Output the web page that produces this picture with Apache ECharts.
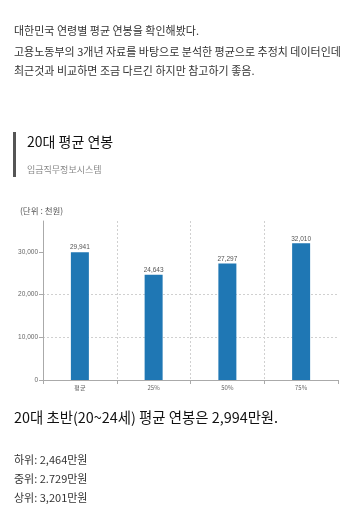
<!DOCTYPE html>
<html>
<head>
<meta charset="utf-8">
<script src="https://cdn.jsdelivr.net/npm/echarts@6/dist/echarts.min.js"></script>
<style>
html,body{margin:0;padding:0;background:#fff;}
#c{width:360px;height:524px;}
</style>
</head>
<body>
<div id="c"></div>
<script>
const categories = ['평균', '25%', '50%', '75%'];
const salaries = [29941, 24643, 27297, 32010];
const yLabelValues = [0, 10000, 20000, 30000];
const introLines = [
  '대한민국 연령별 평균 연봉을 확인해봤다.',
  '고용노동부의 3개년 자료를 바탕으로 분석한 평균으로 추정치 데이터인데',
  '최근것과 비교하면 조금 다르긴 하지만 참고하기 좋음.'
];
const chartTitle = '20대 평균 연봉';
const chartSource = '임금직무정보시스템';
const unitLabel = '(단위 : 천원)';
const summary = '20대 초반(20~24세) 평균 연봉은 2,994만원.';
const detailLines = ['하위: 2,464만원', '중위: 2.729만원', '상위: 3,201만원'];

const FONT = '"Noto Sans CJK KR", "Noto Sans", sans-serif';
const fmt = v => String(v).replace(/\B(?=(\d{3})+(?!\d))/g, ',');

const chart = echarts.init(document.getElementById('c'), null, {renderer: 'canvas'});

const graphics = [];
introLines.forEach((t, i) => {
  graphics.push({type: 'text', left: 14, top: [25.5, 46.5, 65.5][i],
    style: {text: t, font: '11px ' + FONT, fill: '#333'}});
});
graphics.push({type: 'rect', shape: {x: 13, y: 132, width: 3, height: 45}, style: {fill: '#555'}});
graphics.push({type: 'text', left: 27, top: 134.5, style: {text: chartTitle, font: '14px ' + FONT, fill: '#111'}});
graphics.push({type: 'text', left: 27, top: 165, style: {text: chartSource, font: '9px ' + FONT, fill: '#888'}});
graphics.push({type: 'text', left: 20, top: 207, style: {text: unitLabel, font: '8.5px ' + FONT, fill: '#555'}});
graphics.push({type: 'text', left: 14, top: 410.5, style: {text: summary, font: '14.4px ' + FONT, fill: '#111'}});
detailLines.forEach((t, i) => {
  graphics.push({type: 'text', left: 14, top: [454.5, 473.5, 492.5][i],
    style: {text: t, font: '11px ' + FONT, fill: '#333'}});
});

chart.setOption({
  animation: false,
  backgroundColor: '#fff',
  textStyle: {fontFamily: FONT},
  graphic: graphics,
  grid: {left: 43, right: 22, top: 221, bottom: 144, containLabel: false},
  xAxis: {
    type: 'category',
    data: categories,
    boundaryGap: true,
    axisLine: {lineStyle: {color: '#aaa', width: 1}},
    axisTick: {show: true, length: 4, lineStyle: {color: '#aaa'}},
    axisLabel: {fontSize: 6, color: '#666', margin: 5, fontFamily: FONT},
    splitLine: {show: true, showMinLine: false, showMaxLine: false,
      lineStyle: {color: '#d0d0d0', type: [2, 2], width: 1}}
  },
  yAxis: {
    type: 'value',
    min: 0,
    max: 37250,
    interval: 5000,
    axisLine: {show: true, lineStyle: {color: '#aaa', width: 1}},
    axisTick: {show: true, length: 4, customValues: yLabelValues, lineStyle: {color: '#aaa'}},
    axisLabel: {fontSize: 6.5, color: '#666', margin: 5, customValues: yLabelValues,
      formatter: v => fmt(v), fontFamily: 'Liberation Sans, sans-serif'},
    splitLine: {show: true, showMinLine: false, showMaxLine: false,
      lineStyle: {color: '#d0d0d0', type: [2, 2], width: 1}}
  },
  series: [{
    type: 'bar',
    data: salaries,
    barWidth: 18,
    itemStyle: {color: '#1f77b4'},
    label: {show: true, position: 'top', distance: 1, fontSize: 6.5, color: '#555',
      fontFamily: 'Liberation Sans, sans-serif', formatter: p => fmt(p.value)}
  }]
});
</script>
</body>
</html>
